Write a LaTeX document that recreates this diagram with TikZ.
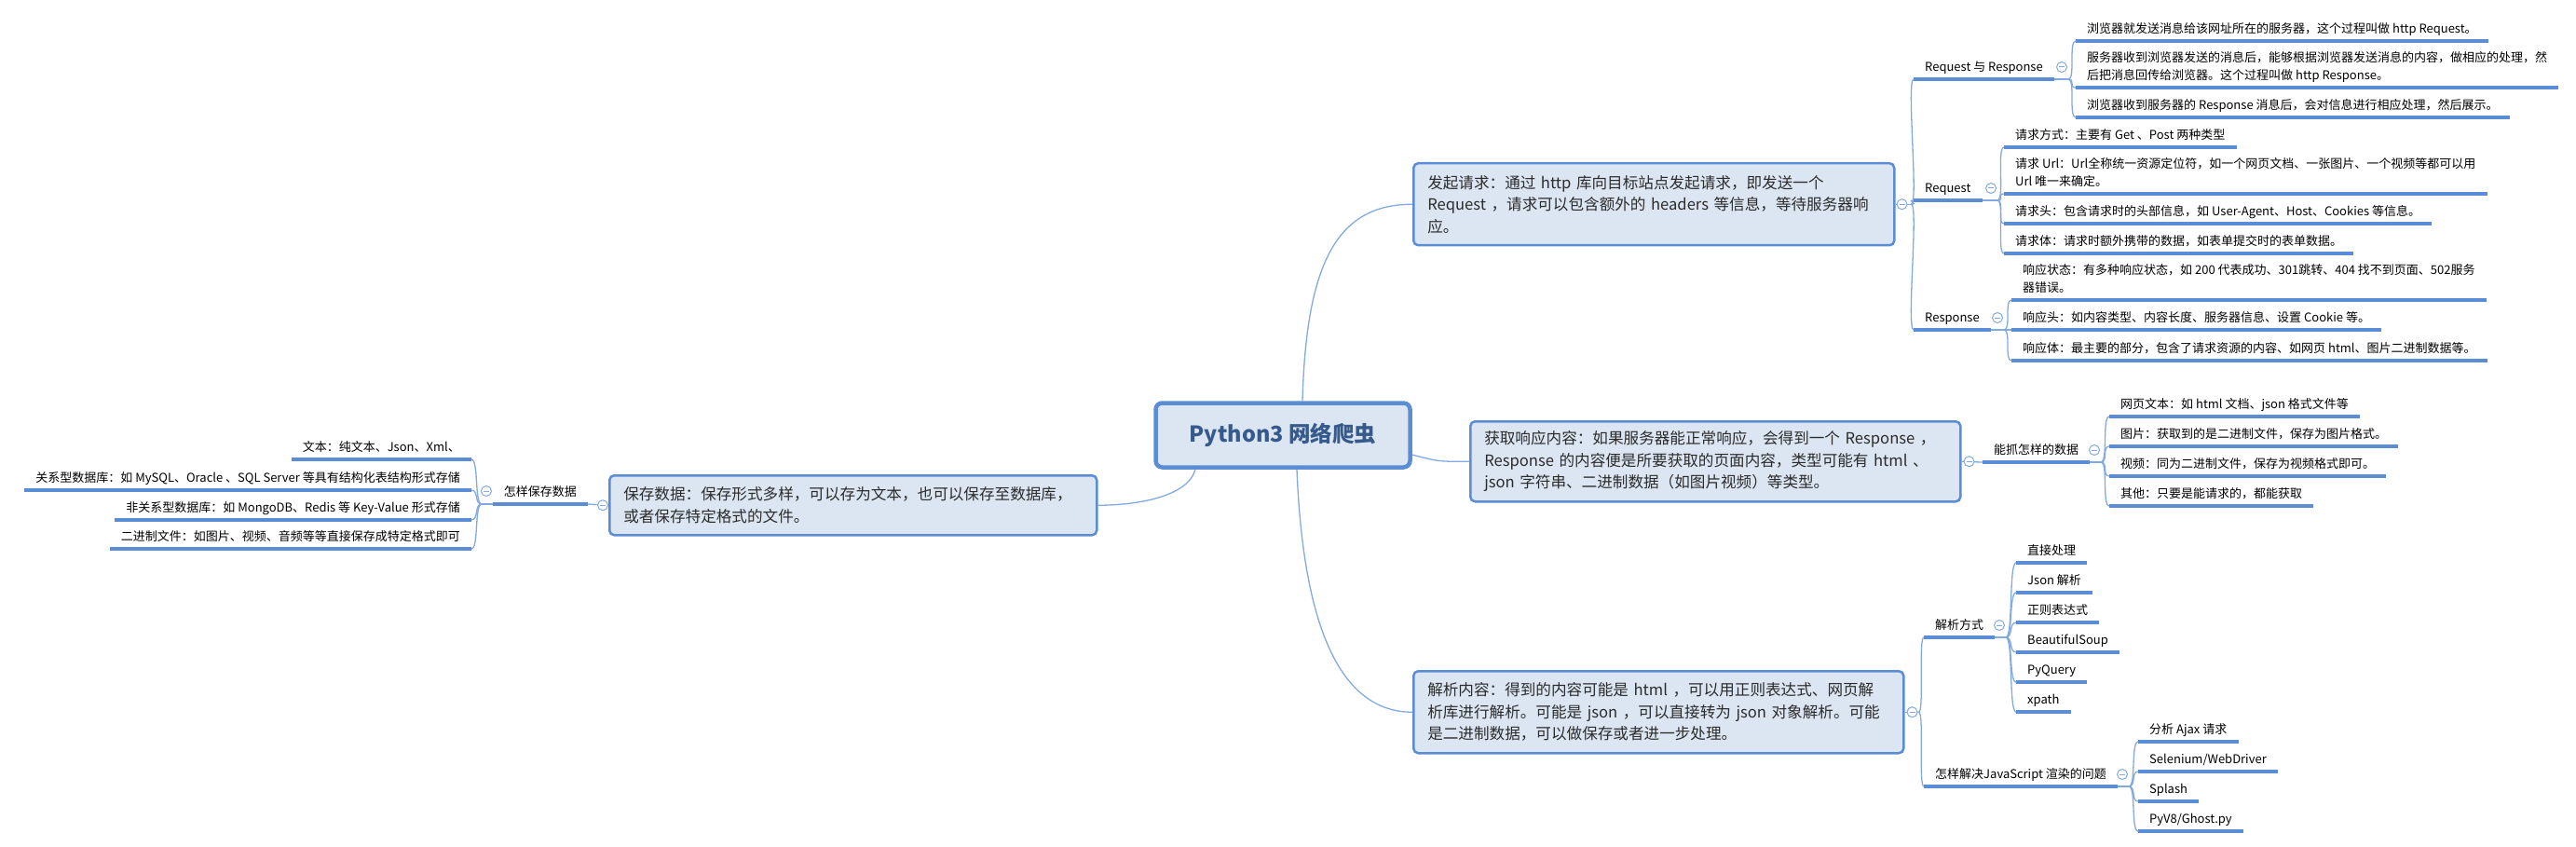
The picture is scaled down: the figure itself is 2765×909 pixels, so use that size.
\documentclass[tikz,border=0pt]{standalone}
\usepackage{fontspec}
\usepackage{tikz}
\newfontfamily\cjk{Noto Sans CJK SC}
\usetikzlibrary{positioning, calc}
\definecolor{mapline}{HTML}{5A8DD5}
\definecolor{mapconn}{HTML}{82A9E1}
\definecolor{mapfill}{HTML}{DCE6F2}
\definecolor{roottext}{HTML}{375A8C}
\definecolor{topictext}{HTML}{2B2B2B}

\tikzset{
  root/.style={draw=mapline, line width=4.5pt, fill=mapfill, rounded corners=7pt,
    minimum width=273pt, minimum height=69pt, text=roottext,
    font=\cjk\bfseries\fontsize{23.5}{28}\selectfont},
  topic/.style={draw=mapline, line width=2.5pt, fill=mapfill, rounded corners=5pt,
    anchor=north west, align=left, inner xsep=15pt, text=topictext,
    font=\cjk\fontsize{16.6}{23.5}\selectfont},
  leaf/.style={anchor=south west, align=left, inner xsep=12pt, inner ysep=5pt,
    text depth=3pt, font=\cjk\fontsize{13}{19}\selectfont,
    append after command={(\tikzlastnode.south west) edge[uline] (\tikzlastnode.south east)}},
  leafl/.style={leaf, anchor=south east},
  uline/.style={draw=mapline, line width=4pt},
  conn/.style={draw=mapconn, line width=1.3pt},
  fold/.style={circle, draw=mapconn, fill=white, line width=1pt, minimum size=11pt, inner sep=0pt,
    path picture={\draw[mapconn, line width=1pt] ([xshift=-3pt]path picture bounding box.center)
      -- ([xshift=3pt]path picture bounding box.center);}},
}

\begin{document}
\begin{tikzpicture}[x=1pt, y=-1pt]
  \useasboundingbox (0,0) rectangle (2765,909);

  % centre and main topics
  \node[root] (root) at (1377,467) {Python3 网络爬虫};
  \node[topic, text width=486pt, minimum height=88pt] (send) at (1516,174)
    {发起请求：通过 http 库向目标站点发起请求，即发送一个\\Request ，请求可以包含额外的 headers 等信息，等待服务器响\\应。};
  \node[topic, text width=496pt, minimum height=86pt] (recv) at (1577,451)
    {获取响应内容：如果服务器能正常响应，会得到一个 Response ，\\Response 的内容便是所要获取的页面内容，类型可能有 html 、\\json 字符串、二进制数据（如图片视频）等类型。};
  \node[topic, text width=496pt, minimum height=88pt] (parse) at (1516,719)
    {解析内容：得到的内容可能是 html ，可以用正则表达式、网页解\\析库进行解析。可能是 json ，可以直接转为 json 对象解析。可能\\是二进制数据，可以做保存或者进一步处理。};
  \node[topic, text width=493pt, minimum height=64pt] (store) at (653,509)
    {保存数据：保存形式多样，可以存为文本，也可以保存至数据库，\\或者保存特定格式的文件。};

  % centre to topics
  \draw[conn] ([xshift=21pt]root.north) .. controls +(4,-150) and +(-80,0) .. (send.west);
  \draw[conn] ([yshift=-21pt]root.east) .. controls +(30,8) and +(-30,0) .. (recv.west);
  \draw[conn] ([xshift=15pt]root.south) .. controls +(6,150) and +(-85,0) .. (parse.west);
  \draw[conn] ([xshift=-94pt]root.south) .. controls +(-8,30) and +(40,0) .. (store.east);

  % send: sub-topics
  \node[leaf] (reqres) at (2054,85) {Request 与 Response};
  \node[leaf] (request) at (2054,215) {Request};
  \node[leaf] (response) at (2054,354) {Response};
  \coordinate (jsend) at ([xshift=17pt]send.east);
  \draw[conn] (send.east) -- (jsend);
  \foreach \n in {reqres, request, response}
    \draw[conn] (jsend) .. controls +(8,0) and +(-8,0) .. (\n.south west);

  \node[leaf] (l1) at (2228,44) {浏览器就发送消息给该网址所在的服务器，这个过程叫做 http Request。};
  \node[leaf] (l2) at (2228,94) {服务器收到浏览器发送的消息后，能够根据浏览器发送消息的内容，做相应的处理，然\\后把消息回传给浏览器。这个过程叫做 http Response。};
  \node[leaf] (l3) at (2228,126) {浏览器收到服务器的 Response 消息后，会对信息进行相应处理，然后展示。};
  \coordinate (jreqres) at (2220,85);

  \node[leaf] (q1) at (2151,158) {请求方式：主要有 Get 、Post 两种类型};
  \node[leaf] (q2) at (2151,208) {请求 Url：Url全称统一资源定位符，如一个网页文档、一张图片、一个视频等都可以用\\Url 唯一来确定。};
  \node[leaf] (q3) at (2151,240) {请求头：包含请求时的头部信息，如 User-Agent、Host、Cookies 等信息。};
  \node[leaf] (q4) at (2151,272) {请求体：请求时额外携带的数据，如表单提交时的表单数据。};
  \coordinate (jrequest) at (2144,215);

  \node[leaf] (s1) at (2159,322) {响应状态：有多种响应状态，如 200 代表成功、301跳转、404 找不到页面、502服务\\器错误。};
  \node[leaf] (s2) at (2159,354) {响应头：如内容类型、内容长度、服务器信息、设置 Cookie 等。};
  \node[leaf] (s3) at (2159,387) {响应体：最主要的部分，包含了请求资源的内容、如网页 html、图片二进制数据等。};
  \coordinate (jresponse) at (2151,354);

  % recv: sub-topic
  \node[leaf] (kinds) at (2128,496) {能抓怎样的数据};
  \draw[conn] (recv.east) .. controls +(12,0) and +(-8,0) .. (kinds.south west);
  \foreach \n/\y/\t in {g1/447/网页文本：如 html 文档、json 格式文件等,
                        g2/479/图片：获取到的是二进制文件，保存为图片格式。,
                        g3/511/视频：同为二进制文件，保存为视频格式即可。,
                        g4/543/其他：只要是能请求的，都能获取}
    \node[leaf] (\n) at (2264,\y) {\t};
  \coordinate (jkinds) at (2255,496);

  % parse: sub-topics
  \node[leaf] (ways) at (2065,684) {解析方式};
  \node[leaf] (jsfix) at (2065,844) {怎样解决JavaScript 渲染的问题};
  \coordinate (jparse) at ([xshift=15pt]parse.east);
  \draw[conn] (parse.east) -- (jparse);
  \foreach \n in {ways, jsfix}
    \draw[conn] (jparse) .. controls +(6,0) and +(-6,0) .. (\n.south west);
  \foreach \n/\y/\t in {p1/604/直接处理, p2/636/Json 解析, p3/668/正则表达式,
                        p4/700/BeautifulSoup, p5/732/PyQuery, p6/764/xpath}
    \node[leaf] (\n) at (2164,\y) {\t};
  \coordinate (jways) at (2153,684);
  \foreach \n/\y/\t in {j1/796/分析 Ajax 请求, j2/828/{Selenium/WebDriver},
                        j3/860/Splash, j4/892/{PyV8/Ghost.py}}
    \node[leaf] (\n) at (2295,\y) {\t};
  \coordinate (jjsfix) at (2285,844);

  % store: sub-topic (left side)
  \node[leafl] (howsave) at (631,541) {怎样保存数据};
  \draw[conn] (store.west) -- (howsave.south east);
  \node[leafl] (d1) at (506,493) {文本：纯文本、Json、Xml、};
  \node[leafl] (d2) at (506,526) {关系型数据库：如 MySQL、Oracle 、SQL Server 等具有结构化表结构形式存储};
  \node[leafl] (d3) at (506,558) {非关系型数据库：如 MongoDB、Redis 等 Key-Value 形式存储};
  \node[leafl] (d4) at (506,589) {二进制文件：如图片、视频、音频等等直接保存成特定格式即可};
  \coordinate (jhowsave) at (517,541);
  \foreach \n in {d1, d2, d3, d4}
    \draw[conn] (jhowsave) .. controls +(-8,0) and +(8,0) .. (\n.south east);
  \draw[conn] (howsave.south west) -- (jhowsave);

  % sub-topic to leaf curves
  \foreach \p/\kids in {reqres/{l1,l2,l3}, request/{q1,q2,q3,q4}, response/{s1,s2,s3},
                        kinds/{g1,g2,g3,g4}, ways/{p1,p2,p3,p4,p5,p6}, jsfix/{j1,j2,j3,j4}} {
    \draw[conn] (\p.south east) -- (j\p);
    \foreach \k in \kids
      \draw[conn] (j\p) .. controls +(8,0) and +(-8,0) .. (\k.south west);
    \node[fold] at ([shift={(-7,-13)}]j\p) {};
  }

  % fold markers
  \node[fold] (fsend) at ([xshift=7pt]send.east) {};
  \node[fold] (frecv) at ([xshift=8pt]recv.east) {};
  \node[fold] (fparse) at ([xshift=8pt]parse.east) {};
  \node[fold] (fstore) at ([xshift=-6pt]store.west) {};
  \node[fold] (fhowsave) at ([shift={(5,-14)}]jhowsave) {};
\end{tikzpicture}
\end{document}
